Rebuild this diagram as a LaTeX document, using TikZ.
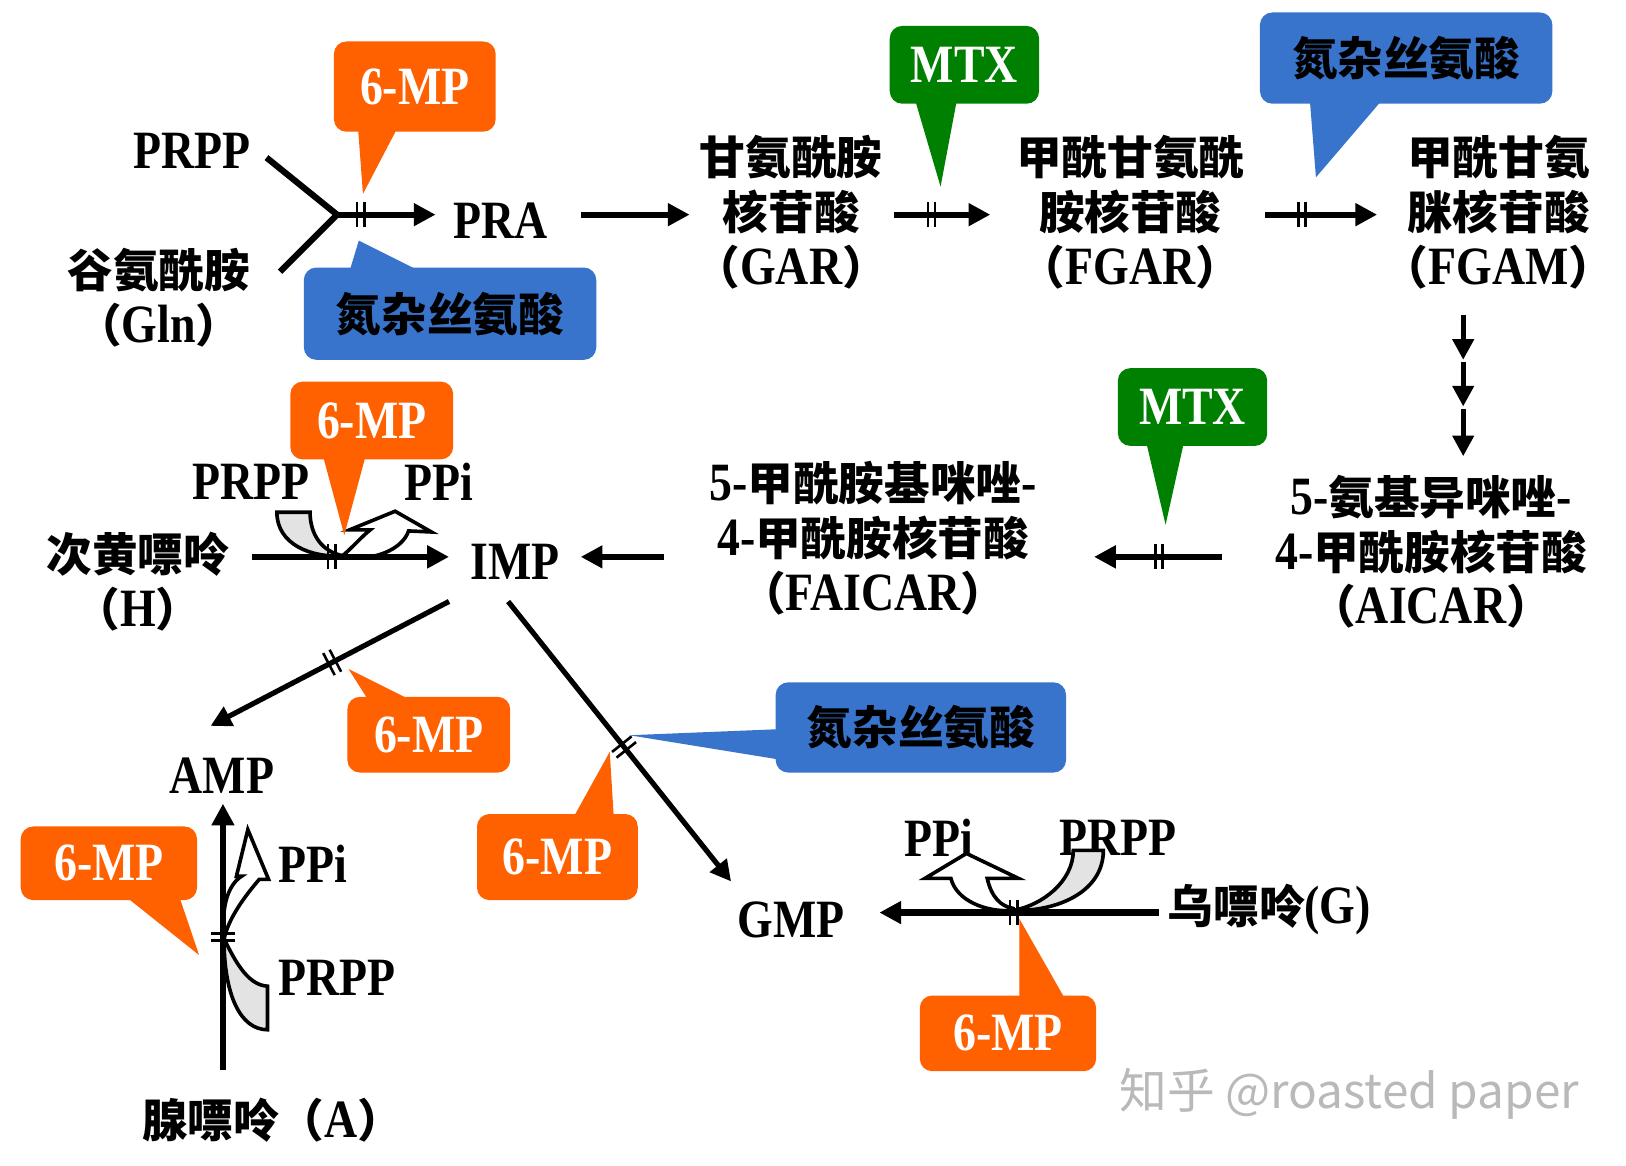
\documentclass[tikz,border=0pt]{standalone}
\usepackage{fontspec}
\setmainfont{Liberation Serif}[FakeStretch=0.85]
\newfontfamily\cjk{Noto Sans CJK SC}
\usetikzlibrary{arrows.meta,decorations.markings}
\definecolor{mporange}{RGB}{255,96,0}
\definecolor{mtxgreen}{RGB}{0,128,0}
\definecolor{azablue}{RGB}{56,116,204}
\newcommand\zh[1]{{\fontsize{44}{53}\selectfont\cjk\bfseries #1}}
\begin{document}
\begin{tikzpicture}[x=1pt,y=-1pt,
  lbl/.style={font=\fontsize{52}{53}\selectfont\bfseries, align=center, inner sep=0pt},
  conn/.style={line width=6pt},
  arr/.style={line width=6pt, -{Triangle[length=21pt,width=21pt]}},
  darr/.style={line width=5pt, -{Triangle[length=20pt,width=20pt]}},
  barsat/.style={postaction={decorate, decoration={markings,
      mark=at position #1 with {\draw[line width=2.5pt,-] (-3.5pt,-12pt) -- (-3.5pt,12pt) (3.5pt,-12pt) -- (3.5pt,12pt);}}}},
  band/.style={draw, line width=3.5pt, fill=gray!22, line join=miter},
  hollow/.style={draw, line width=3.5pt, fill=white, line join=miter},
  callout/.style={rounded corners=12pt, inner sep=0pt, font=\fontsize{52}{53}\selectfont\bfseries},
  mp/.style={callout, fill=mporange, text=white},
  mtx/.style={callout, fill=mtxgreen, text=white},
  aza/.style={callout, fill=azablue, text=black}]
\fill[white] (0,0) rectangle (1568,1124);
\useasboundingbox (0,0) rectangle (1568,1124);

% ---------- text nodes ----------
\node[lbl] (prpp1) at (185,145) {PRPP};
\node[lbl] (gln) at (153,287) {\zh{谷氨酰胺}\\\zh{（}Gln\zh{）}};
\node[lbl] (pra) at (483,213) {PRA};
\node[lbl] (gar) at (763,205) {\zh{甘氨酰胺}\\\zh{核苷酸}\\\zh{（}GAR\zh{）}};
\node[lbl] (fgar) at (1090,205) {\zh{甲酰甘氨酰}\\\zh{胺核苷酸}\\\zh{（}FGAR\zh{）}};
\node[lbl] (fgam) at (1445,205) {\zh{甲酰甘氨}\\\zh{脒核苷酸}\\\zh{（}FGAM\zh{）}};
\node[lbl] (aicar) at (1380,532) {5-\zh{氨基异咪唑}-\\4-\zh{甲酰胺核苷酸}\\\zh{（}AICAR\zh{）}};
\node[lbl] (faicar) at (842,519) {5-\zh{甲酰胺基咪唑}-\\4-\zh{甲酰胺核苷酸}\\\zh{（}FAICAR\zh{）}};
\node[lbl] (imp) at (497,542) {IMP};
\node[lbl] (hx) at (133,561) {\zh{次黄嘌呤}\\\zh{（}H\zh{）}};
\node[lbl] (prpp2) at (242,465) {PRPP};
\node[lbl] (ppi2) at (423,465) {PPi};
\node[lbl] (amp) at (214,748) {AMP};
\node[lbl] (ppi3) at (302,833) {PPi};
\node[lbl] (prpp3) at (325,943) {PRPP};
\node[lbl] (ade) at (263,1080) {\zh{腺嘌呤（}A\zh{）}};
\node[lbl] (gmp) at (763,887) {GMP};
\node[lbl] (ppi4) at (905,808) {PPi};
\node[lbl] (prpp4) at (1078,808) {PRPP};
\node[lbl] (gua) at (1224,877) {\zh{乌嘌呤}(G)};
\node[font=\fontsize{46}{46}\selectfont\cjk, text=gray!55, inner sep=0pt] (wm) at (1301,1055) {知乎 @roasted paper};

% ---------- connector end points ----------
\coordinate (c-prpp1) at (257,152);
\coordinate (c-gln) at (270,262);
\coordinate (j1) at (325,207);
\coordinate (c-praw) at (420,207);
\coordinate (c-prae) at (560,207);
\coordinate (c-garw) at (665,207);
\coordinate (c-gare) at (862,207);
\coordinate (c-fgarw) at (955,207);
\coordinate (c-fgare) at (1220,207);
\coordinate (c-fgamw) at (1328,207);
\coordinate (v0) at (1411,304);
\coordinate (v1) at (1411,347);
\coordinate (v1b) at (1411,349);
\coordinate (v2) at (1411,392);
\coordinate (v2b) at (1411,394);
\coordinate (v3) at (1411,440);
\coordinate (c-aicarw) at (1178,537);
\coordinate (c-faicare) at (1055,537);
\coordinate (c-faicarw) at (640,537);
\coordinate (c-impe) at (560,537);
\coordinate (c-hxe) at (243,537);
\coordinate (c-impw) at (433,537);
\coordinate (c-impsw) at (433,580);
\coordinate (c-ampne) at (203,700);
\coordinate (c-impse) at (490,580);
\coordinate (c-gmpnw) at (705,850);
\coordinate (c-aden) at (215,1032);
\coordinate (c-amps) at (215,775);
\coordinate (c-guaw) at (1118,880);
\coordinate (c-gmpe) at (848,880);

% ---------- side reactants (bands and hollow arrows) ----------
\draw[band] (267,494) -- (299,494) .. controls (299,515) and (310,532) .. (331,536)
  .. controls (300,538) and (267,525) .. (267,494) -- cycle;
\draw[hollow] (329,537) .. controls (338,530) and (348,518) .. (357,511) -- (337,511)
  -- (381,493) -- (416,513) -- (394,512) .. controls (388,530) and (360,542) .. (329,537) -- cycle;

\draw[band] (1035,820) -- (1064,820) .. controls (1064,860) and (1020,879) .. (977,878)
  .. controls (1005,873) and (1035,850) .. (1035,820) -- cycle;
\draw[hollow] (977,878) .. controls (950,880) and (922,868) .. (917,847) -- (892,847)
  -- (932,823) -- (982,847) -- (952,847) .. controls (956,865) and (965,874) .. (977,876) -- cycle;

\draw[band] (216,905) .. controls (228,930) and (240,950) .. (258,951) -- (258,993)
  .. controls (232,993) and (216,960) .. (216,905) -- cycle;
\draw[hollow] (216,880) .. controls (218,860) and (226,849) .. (233,845) -- (228,845)
  -- (239,800) -- (259,848) -- (250,848) .. controls (238,862) and (220,885) .. (216,906) -- cycle;

% ---------- connectors ----------
\draw[conn, line join=miter] (c-prpp1) -- (j1) -- (c-gln);
\draw[arr, barsat=0.24] (j1) -- (c-praw);
\draw[arr] (c-prae) -- (c-garw);
\draw[arr, barsat=0.39] (c-gare) -- (c-fgarw);
\draw[arr, barsat=0.33] (c-fgare) -- (c-fgamw);
\draw[darr] (v0) -- (v1);
\draw[darr] (v1b) -- (v2);
\draw[darr] (v2b) -- (v3);
\draw[arr, barsat=0.49] (c-aicarw) -- (c-faicare);
\draw[arr] (c-faicarw) -- (c-impe);
\draw[arr, barsat=0.405] (c-hxe) -- (c-impw);
\draw[darr, barsat=0.49] (c-impsw) -- (c-ampne);
\draw[darr, barsat=0.52] (c-impse) -- (c-gmpnw);
\draw[arr, barsat=0.5] (c-aden) -- (c-amps);
\draw[arr, barsat=0.52] (c-guaw) -- (c-gmpe);

% ---------- callouts ----------
\fill[mporange] (345,120) -- (385,120) -- (350,187) -- cycle;
\node[mp, minimum width=156pt, minimum height=87pt] (mp1) at (400,83.5) {6-MP};

\fill[mtxgreen] (882,95) -- (923,95) -- (907,180) -- cycle;
\node[mtx, minimum width=144pt, minimum height=75pt] (mtx1) at (930,62.5) {MTX};

\fill[azablue] (1263,95) -- (1334,95) -- (1269,171) -- cycle;
\node[aza, minimum width=282pt, minimum height=88pt] (aza1) at (1356,56) {\zh{氮杂丝氨酸}};

\fill[azablue] (336,265) -- (412,265) -- (346,232) -- cycle;
\node[aza, minimum width=282pt, minimum height=89pt] (aza2) at (434,302.5) {\zh{氮杂丝氨酸}};

\fill[mporange] (311,438) -- (353,438) -- (332,516) -- cycle;
\node[mp, minimum width=157pt, minimum height=75pt] (mp2) at (358.5,405.5) {6-MP};

\fill[mtxgreen] (1105,425) -- (1142,425) -- (1124,506) -- cycle;
\node[mtx, minimum width=144pt, minimum height=75pt] (mtx2) at (1150,392.5) {MTX};

\fill[mporange] (336,645) -- (357,678) -- (402,678) -- cycle;
\node[mp, minimum width=157pt, minimum height=73pt] (mp3) at (413.5,708.5) {6-MP};

\fill[azablue] (607,709) -- (755,703) -- (755,733) -- cycle;
\node[aza, minimum width=280pt, minimum height=87pt] (aza3) at (888,701.5) {\zh{氮杂丝氨酸}};

\fill[mporange] (588,725) -- (552,790) -- (592,790) -- cycle;
\node[mp, minimum width=155pt, minimum height=83pt] (mp4) at (537.5,826.5) {6-MP};

\fill[mporange] (118,862) -- (172,862) -- (192,921) -- cycle;
\node[mp, minimum width=170pt, minimum height=71pt] (mp5) at (105,832.5) {6-MP};

\fill[mporange] (983,886) -- (983,965) -- (1028,965) -- cycle;
\node[mp, minimum width=170pt, minimum height=73pt] (mp6) at (972,996.5) {6-MP};
\end{tikzpicture}
\end{document}
